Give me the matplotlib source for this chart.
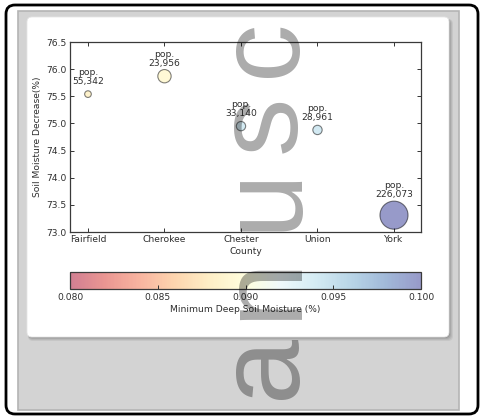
import matplotlib
matplotlib.use('Agg')
import matplotlib.pyplot as plt
from matplotlib.patches import FancyBboxPatch
from matplotlib.transforms import IdentityTransform

# ---- data ----
counties = ['Fairfield', 'Cherokee', 'Chester', 'Union', 'York']
decrease = [75.54, 75.87, 74.95, 74.88, 73.31]
min_deep_moisture = [0.0885, 0.0893, 0.0940, 0.0942, 0.1000]
marker_sizes = [23, 92, 45, 45, 408]
populations = ['55,342', '23,956', '33,140', '28,961', '226,073']
yticks = [73.0, 73.5, 74.0, 74.5, 75.0, 75.5, 76.0, 76.5]
cbar_ticks = [0.080, 0.085, 0.090, 0.095, 0.100]

W, H = 481, 419
DPI = 100
TXT = '#2e2e2e'
FS = 6.6
plt.rcParams['font.family'] = ['DejaVu Sans']

fig = plt.figure(figsize=(W / DPI, H / DPI), dpi=DPI)
fig.patch.set_facecolor('white')


def box(x0, y0, x1, y1, r=0, **kw):
    """pixel coords measured from top-left"""
    p = FancyBboxPatch((x0, H - y1), x1 - x0, y1 - y0,
                       boxstyle=f'round,pad=0,rounding_size={r}',
                       transform=IdentityTransform(), **kw)
    fig.patches.append(p)
    return p

# page background / frame
box(18, 11, 459, 410, r=0, facecolor='#d3d3d3', edgecolor='#b4b4b4',
    linewidth=1.2, zorder=-10)
# card shadow (soft)
for i, a in enumerate([0.10, 0.12, 0.16, 0.22]):
    d = 4 - i
    box(27 + 1, 17 + 2, 449 + d, 337 + d, r=5, facecolor='#555555',
        edgecolor='none', alpha=a, zorder=-9)
box(27, 17, 449, 337, r=5, facecolor='white', edgecolor='#e6e6e6',
    linewidth=0.6, zorder=-8)
# outer black rounded border
box(6, 5, 478, 414, r=9, facecolor='none', edgecolor='black',
    linewidth=2.0, zorder=50)

# ---- main axes ----
ax = fig.add_axes([70 / W, 1 - 232 / H, (421 - 70) / W, (232 - 42) / H])
ax.set_facecolor('white')
xpos = list(range(len(counties)))
sc = ax.scatter(xpos, decrease, s=marker_sizes, c=min_deep_moisture,
                cmap='RdYlBu', vmin=cbar_ticks[0], vmax=cbar_ticks[-1],
                alpha=0.5, edgecolors='black', linewidths=0.8, zorder=3)

for x, y, s, pop in zip(xpos, decrease, marker_sizes, populations):
    r_pt = (s ** 0.5) / 2.0
    off = max(5.8, r_pt + 1.2)
    ax.annotate('pop.\n' + pop, (x, y), xytext=(0, off),
                textcoords='offset points', ha='center', va='bottom',
                fontsize=FS, color=TXT, linespacing=1.0)

ax.set_xlim(-0.235, 4.353)
ax.set_ylim(73.0, 76.5)
ax.set_xticks(xpos)
ax.set_xticklabels(counties)
ax.set_yticks(yticks)
ax.set_yticklabels([f'{v:.1f}' for v in yticks])
ax.tick_params(direction='in', top=True, right=True, length=3, width=0.7,
               labelsize=FS, labelcolor=TXT, color='#333333', pad=2.5)
for sp in ax.spines.values():
    sp.set_color('#3a3a3a')
    sp.set_linewidth(0.9)
ax.set_ylabel('Soil Moisture Decrease(%)', fontsize=FS, color=TXT)
ax.set_xlabel('County', fontsize=FS, color=TXT)
ax.yaxis.set_label_coords((42 - 70) / 351, 0.5)
ax.xaxis.set_label_coords(0.5, -(247 - 232) / 190)
ax.xaxis.label.set_va('top')

# ---- colorbar ----
cax = fig.add_axes([70 / W, 1 - 289 / H, 351 / W, 17 / H])
cb = fig.colorbar(sc, cax=cax, orientation='horizontal', ticks=cbar_ticks)
cb.ax.set_xticklabels([f'{v:.3f}' for v in cbar_ticks])
cb.ax.tick_params(direction='in', length=3, width=0.7, labelsize=FS,
                  labelcolor=TXT, color='#333333', pad=3)
cb.outline.set_edgecolor('#3a3a3a')
cb.outline.set_linewidth(0.9)
cb.set_label('Minimum Deep Soil Moisture (%)', fontsize=FS, color=TXT,
             labelpad=2)

# ---- watermark (letters of "manuscript", rotated, widely tracked) ----
wm_letters = ['a', 'n', 'u', 's', 'c']
wm_centers = [366, 288, 198, 124, 48]     # pixel rows from top
for ch, yc in zip(wm_letters, wm_centers):
    fig.text(295 / W, 1 - yc / H, ch, rotation=90, rotation_mode='anchor',
             ha='center', va='baseline', fontsize=84,
             family='Liberation Sans', color='black', alpha=0.33,
             zorder=100)

fig.savefig('out.png', dpi=DPI)
